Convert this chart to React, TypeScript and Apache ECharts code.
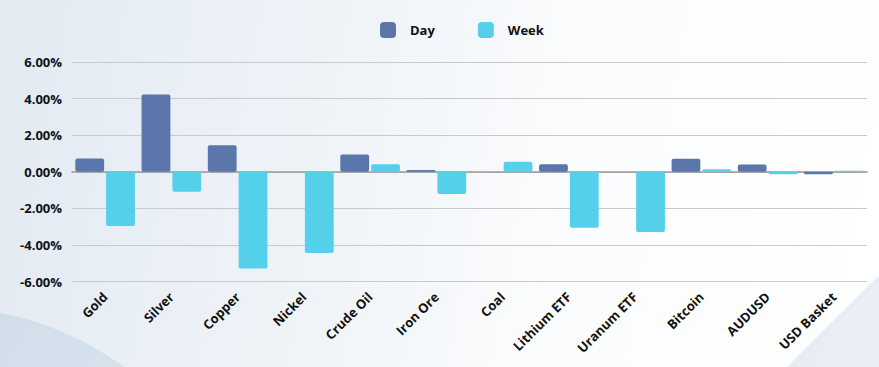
import React, { useEffect, useRef } from "react";
import * as echarts from "echarts";

const categories = ["Gold", "Silver", "Copper", "Nickel", "Crude Oil", "Iron Ore", "Coal", "Lithium ETF", "Uranum ETF", "Bitcoin", "AUDUSD", "USD Basket"];
const dayValues = [0.73, 4.23, 1.45, 0, 0.94, 0.1, 0, 0.41, 0, 0.71, 0.4, -0.13];
const weekValues = [-2.97, -1.09, -5.29, -4.44, 0.41, -1.22, 0.55, -3.06, -3.29, 0.14, -0.13, 0.05];
const seriesNames = ["Day", "Week"];
const yTicks = { min: -6, max: 6, interval: 2 };

const FONT = "'Open Sans', 'Noto Sans', sans-serif";

export default function App() {
  const ref = useRef<HTMLDivElement>(null);
  useEffect(() => {
    document.body.style.margin = "0";
    if (!ref.current) return;
    const chart = echarts.init(ref.current, null, { renderer: "svg" });
    chart.setOption({
      animation: false,
      backgroundColor: "transparent",
      textStyle: { fontFamily: FONT },
      graphic: [
        {
          type: "circle",
          silent: true,
          z: -10,
          shape: { cx: -60, cy: 620, r: 313 },
          style: {
            fill: new echarts.graphic.LinearGradient(0, 0, 1, 1, [
              { offset: 0, color: "rgba(185,205,222,0.6)" },
              { offset: 1, color: "rgba(210,225,236,0.4)" },
            ]),
          },
        },
        {
          type: "polygon",
          silent: true,
          z: -10,
          shape: { points: [[877, 277], [879, 277], [879, 367], [787, 367]] },
          style: { fill: "rgba(205,218,230,0.45)" },
        },
      ],
      legend: {
        left: 375,
        top: 17,
        itemWidth: 16,
        itemHeight: 16,
        itemGap: 43,
        icon: "roundRect",
        data: seriesNames,
        textStyle: {
          fontFamily: FONT,
          fontWeight: "bold",
          fontSize: 13,
          color: "#111",
          padding: [0, 0, 0, 9],
        },
      },
      grid: { left: 72, right: 12, top: 62, bottom: 85.5, containLabel: false },
      xAxis: {
        type: "category",
        data: categories,
        axisTick: { show: false },
        axisLine: { onZero: true, lineStyle: { color: "#9a9a9a", width: 1.5 } },
        axisLabel: {
          interval: 0,
          rotate: 45,
          margin: 13,
          fontFamily: FONT,
          fontWeight: "bold",
          fontSize: 13,
          color: "#111",
        },
      },
      yAxis: {
        type: "value",
        min: yTicks.min,
        max: yTicks.max,
        interval: yTicks.interval,
        axisLine: { show: false },
        axisTick: { show: false },
        splitLine: { lineStyle: { color: "#c9c9cc", width: 1.2 } },
        axisLabel: {
          margin: 10,
          fontFamily: FONT,
          fontWeight: "bold",
          fontSize: 13,
          color: "#111",
          formatter: (v: number) => v.toFixed(2) + "%",
        },
      },
      series: [
        {
          name: seriesNames[0],
          type: "bar",
          data: dayValues,
          barGap: "7%",
          barCategoryGap: "10%",
          itemStyle: { color: "#5a76aa", borderRadius: 2 },
        },
        {
          name: seriesNames[1],
          type: "bar",
          data: weekValues,
          barGap: "7%",
          barCategoryGap: "10%",
          itemStyle: { color: "#55d0ea", borderRadius: 2 },
        },
      ],
    });
    return () => chart.dispose();
  }, []);
  return (
    <div
      style={{
        position: "fixed",
        left: 0,
        top: 0,
        width: 879,
        height: 367,
        background: "linear-gradient(100deg, #e2eaf2 0%, #eef3f8 35%, #fbfcfd 65%, #ffffff 100%)",
      }}
    >
      <div ref={ref} style={{ width: 879, height: 367 }} />
    </div>
  );
}
